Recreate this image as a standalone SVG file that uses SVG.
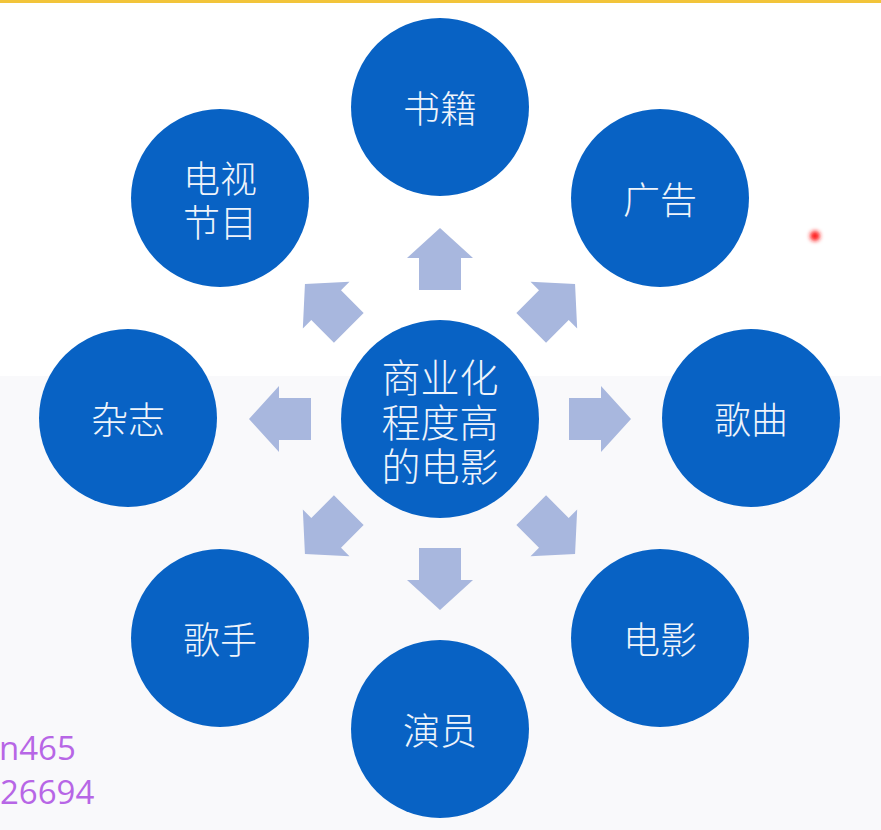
<svg xmlns="http://www.w3.org/2000/svg" width="881" height="830" viewBox="0 0 881 830">
<defs>
<style>
.node{fill:#0862C4;}
.lbl{font-family:"Noto Sans CJK SC","Noto Sans",sans-serif;font-weight:300;font-size:37px;fill:#EEF4FB;text-anchor:middle;dominant-baseline:central;}
.clbl{font-size:39px;}
.arrow{fill:#A8B7DE;}
.wm{font-family:"Open Sans","Liberation Sans",sans-serif;font-size:33px;fill:#B766E6;}
</style>
<path id="arr" d="M -21,-129 L -21,-161 L -33,-161 L 0,-191 L 33,-161 L 21,-161 L 21,-129 Z"/>
<filter id="blur" x="-1" y="-1" width="3" height="3"><feGaussianBlur stdDeviation="2"/></filter>
</defs>
<rect x="0" y="0" width="881" height="830" fill="#FFFFFF"/>
<rect x="0" y="376" width="881" height="454" fill="#F9F9FB"/>
<rect x="0" y="0" width="881" height="3" fill="#F2C43A"/>
<g id="connectors" class="arrow" transform="translate(440,419)">
<use href="#arr" transform="rotate(0)"/>
<use href="#arr" transform="rotate(45)"/>
<use href="#arr" transform="rotate(90)"/>
<use href="#arr" transform="rotate(135)"/>
<use href="#arr" transform="rotate(180)"/>
<use href="#arr" transform="rotate(225)"/>
<use href="#arr" transform="rotate(270)"/>
<use href="#arr" transform="rotate(315)"/>
</g>
<g id="center"><circle class="node" cx="440" cy="419" r="99"/>
<text class="lbl clbl" x="440" y="375">商业化<tspan x="440" dy="45">程度高</tspan><tspan x="440" dy="44">的电影</tspan></text></g>
<g id="n-book"><circle class="node" cx="440" cy="107" r="89"/><text class="lbl" x="440" y="107">书籍</text></g>
<g id="n-ad"><circle class="node" cx="660" cy="198" r="89"/><text class="lbl" x="660" y="198">广告</text></g>
<g id="n-song"><circle class="node" cx="751" cy="418" r="89"/><text class="lbl" x="751" y="418">歌曲</text></g>
<g id="n-film"><circle class="node" cx="660" cy="638" r="89"/><text class="lbl" x="660" y="638">电影</text></g>
<g id="n-actor"><circle class="node" cx="440" cy="729" r="89"/><text class="lbl" x="440" y="729">演员</text></g>
<g id="n-singer"><circle class="node" cx="220" cy="638" r="89"/><text class="lbl" x="220" y="638">歌手</text></g>
<g id="n-mag"><circle class="node" cx="128" cy="418" r="89"/><text class="lbl" x="128" y="418">杂志</text></g>
<g id="n-tv"><circle class="node" cx="220" cy="198" r="89"/>
<text class="lbl" x="220" y="177">电视<tspan x="220" dy="44">节目</tspan></text></g>
<circle cx="815" cy="236" r="5" fill="#FF1A1A" filter="url(#blur)"/>
<text class="wm" x="-1" y="760">n465</text>
<text class="wm" x="0" y="804">26694</text>
</svg>
